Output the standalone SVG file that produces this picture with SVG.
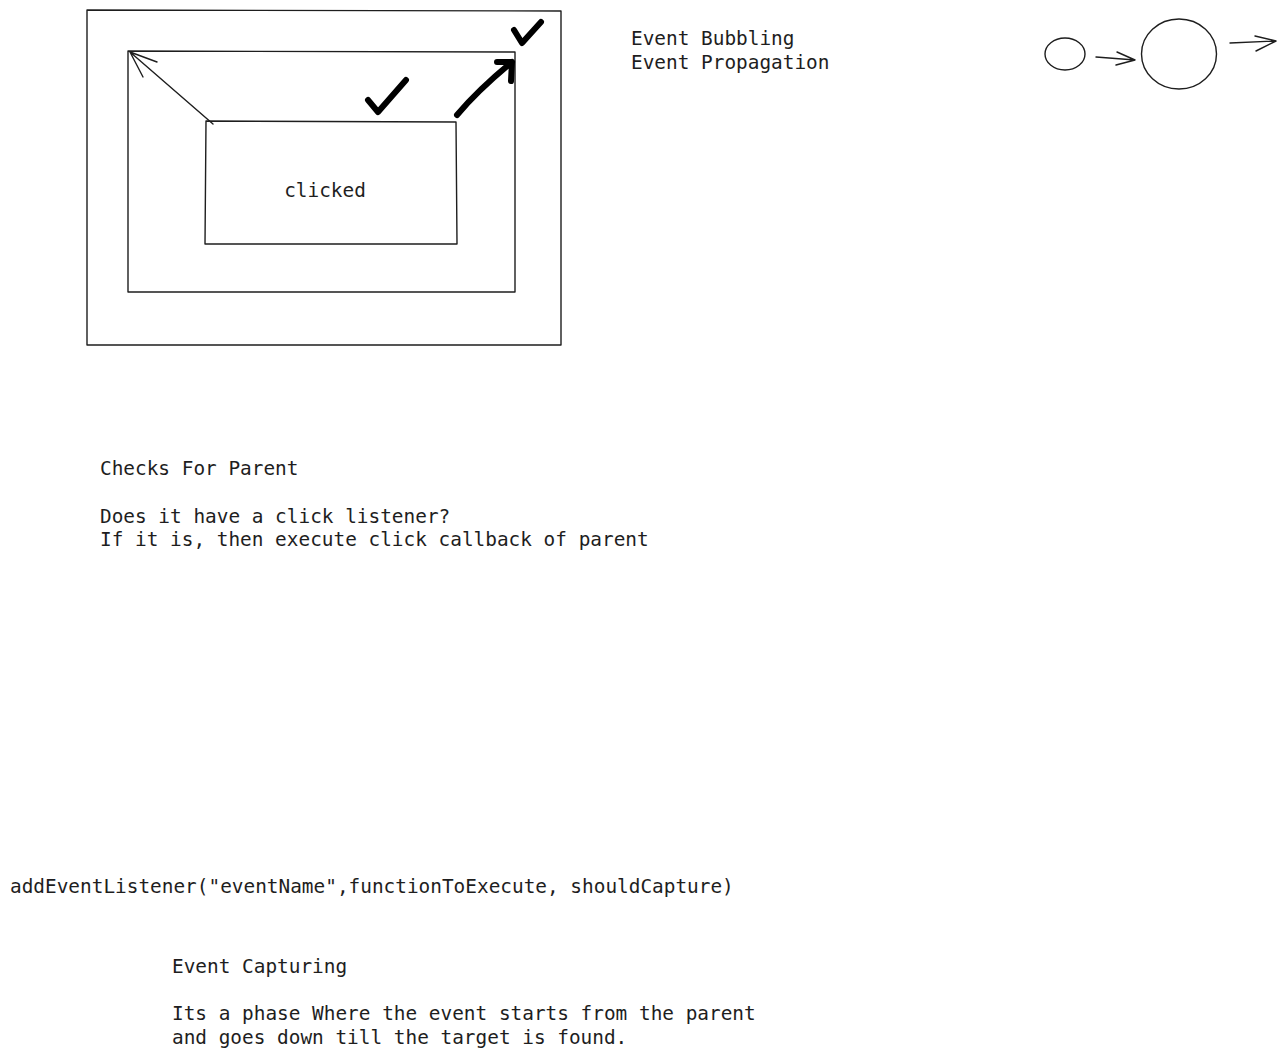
<svg xmlns="http://www.w3.org/2000/svg" width="1286" height="1058" viewBox="0 0 1286 1058">
<style>
.s{fill:none;stroke:#1e1e1e;stroke-width:1.4;stroke-linecap:round;stroke-linejoin:round}
.b{fill:none;stroke:#000;stroke-width:6;stroke-linecap:round;stroke-linejoin:round}
.t{font-family:"DejaVu Sans Mono","Liberation Mono",monospace;font-size:19.4px;fill:#1e1e1e}
</style>
<rect width="1286" height="1058" fill="#fff"/>
<g id="outer-box"><path class="s" d="M87 10 L561 11 L561 345 L87 345 Z"/></g>
<g id="middle-box"><path class="s" d="M128 51 L515 52 L515 292 L128 292 Z"/></g>
<g id="inner-box"><path class="s" d="M206 121 L456 122 L457 244 L205 244 Z"/>
<text class="t" x="325" y="197" text-anchor="middle">clicked</text></g>
<g id="check-1"><path class="b" d="M368 100 L378 112 L406 80"/></g>
<g id="check-2"><path class="b" d="M514 30 L522 43 L541 22"/></g>
<g id="circle-small"><ellipse class="s" cx="1065" cy="54" rx="20" ry="16"/></g>
<g id="circle-big"><ellipse class="s" cx="1179" cy="54" rx="37.5" ry="35"/></g>
<g id="connectors">
<path class="s" d="M213 124 L130 52 M130 52 L157 62 M130 52 L143 77"/>
<path class="b" d="M457 115 Q478 90 512 62 M512 62 L497 62 M512 62 L511 81"/>
<path class="s" d="M1096 57 L1135 60 M1135 60 L1117 52 M1135 60 L1116 65"/>
<path class="s" d="M1230 43 L1276 41 M1276 41 L1255 36 M1276 41 L1256 51"/>
</g>
<g id="label-bubbling">
<text class="t" x="631" y="45">Event Bubbling</text>
<text class="t" x="631" y="69">Event Propagation</text>
</g>
<g id="label-parent">
<text class="t" x="100" y="475">Checks For Parent</text>
<text class="t" x="100" y="523">Does it have a click listener?</text>
<text class="t" x="100" y="546">If it is, then execute click callback of parent</text>
</g>
<g id="label-listener">
<text class="t" x="10" y="893">addEventListener("eventName",functionToExecute, shouldCapture)</text>
</g>
<g id="label-capturing">
<text class="t" x="172" y="973">Event Capturing</text>
<text class="t" x="172" y="1020">Its a phase Where the event starts from the parent</text>
<text class="t" x="172" y="1044">and goes down till the target is found.</text>
</g>
</svg>
